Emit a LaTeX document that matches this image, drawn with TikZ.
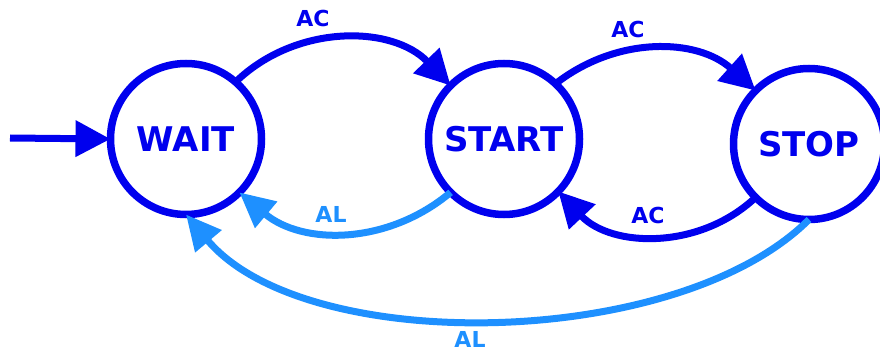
\documentclass[tikz,border=0pt]{standalone}
\usepackage{fontspec}
\setmainfont{DejaVu Sans}
\usetikzlibrary{arrows.meta}
\definecolor{sblue}{RGB}{0,0,238}
\definecolor{lblue}{RGB}{30,144,255}
\tikzset{
  state/.style={circle, draw=sblue, line width=7.5pt, minimum size=151pt, inner sep=0pt, outer sep=0pt,
    text=sblue, font=\fontsize{34}{38}\selectfont\bfseries},
  ac/.style={draw=sblue, line width=7pt, -{Triangle[length=35pt,width=35pt]}},
  al/.style={draw=lblue, line width=7pt, -{Triangle[length=35pt,width=33pt]}},
  aclbl/.style={text=sblue, font=\fontsize{22}{24}\selectfont\bfseries, inner sep=0pt},
  allbl/.style={text=lblue, font=\fontsize{22}{24}\selectfont\bfseries, inner sep=0pt}
}
\begin{document}
\begin{tikzpicture}[x=1pt,y=1pt]
\useasboundingbox (0,0) rectangle (880,351);
\clip (0,0) rectangle (880,351);
\node[state] (W) at (186,212) {WAIT};
\node[state] (S) at (504,212) {START};
\node[state] (P) at (809,207) {STOP};
\coordinate (init) at (10,213);
\draw[ac] (init) -- (W.west);
\draw[ac] (W.49) to[bend left=45] (S.135);
\draw[ac] (S.47) to[bend left=40] (P.135);
\draw[ac] (P.225) to[bend left=45] (S.-44);
\draw[al] (S.225) to[bend left=40] (W.-45);
\draw[al] (P.south) to[out=-135,in=-50,looseness=0.76] (W.south);
\node[aclbl] (l1) at (313,333) {AC};
\node[aclbl] (l2) at (628,321.5) {AC};
\node[aclbl] (l3) at (648,136) {AC};
\node[allbl] (l4) at (331,137) {AL};
\node[allbl] (l5) at (470,12) {AL};
\end{tikzpicture}
\end{document}
